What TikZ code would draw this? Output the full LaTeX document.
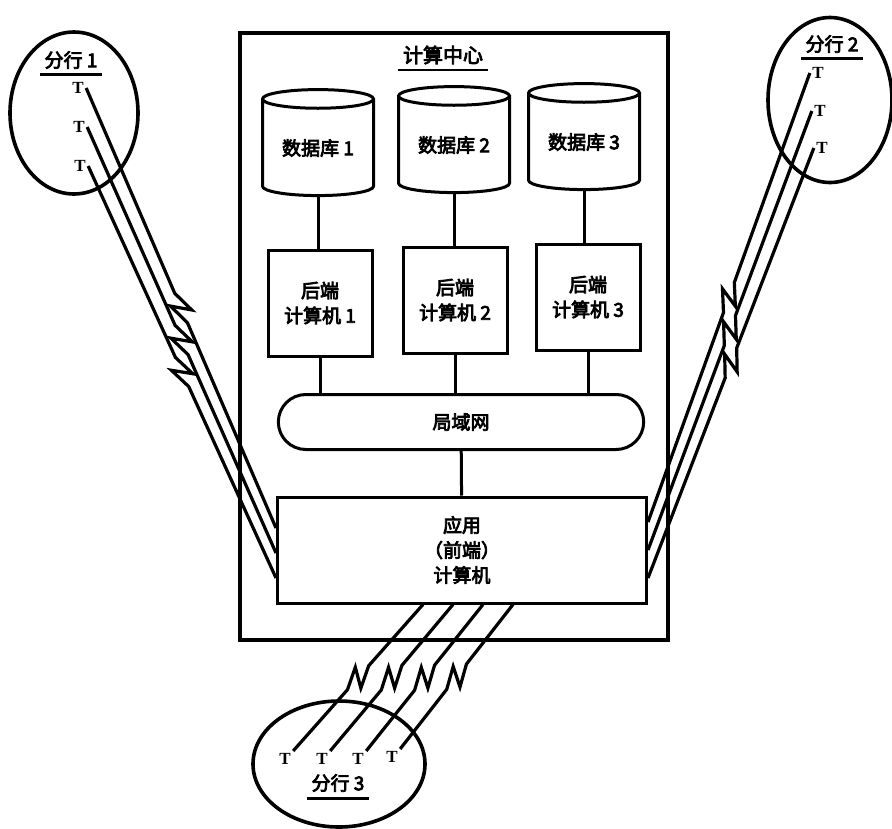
\documentclass[tikz,border=0pt]{standalone}
\usepackage{fontspec}
\newfontfamily\cjk{Noto Sans CJK SC}[FakeBold=4]
\newfontfamily\tfont{Liberation Serif}
\usetikzlibrary{positioning, shapes.geometric, shapes.misc, calc}
\tikzset{
  every picture/.style={line width=3pt},
  lbl/.style={font=\cjk\fontsize{19}{25}\selectfont, align=center},
  db/.style={lbl, cylinder, shape border rotate=90, aspect=0.26, draw, line width=3pt, minimum width=111pt, minimum height=106pt, inner sep=0pt},
  unit/.style={lbl, draw, line width=3pt, minimum width=104pt, minimum height=106pt},
  lan/.style={lbl, rounded rectangle, draw, line width=3pt, minimum width=372pt, minimum height=55pt},
  term/.style={font=\tfont\bfseries\fontsize{17}{17}\selectfont, inner sep=1pt},
  branch/.style={ellipse, draw, line width=3.6pt},
  uline/.style={line width=2.6pt},
  link/.style={line width=3.2pt, to path={
    -- ($(\tikztostart)!0.5!(\tikztotarget)!-16pt!(\tikztotarget)$)
    -- ($(\tikztostart)!0.5!(\tikztotarget)!6pt!(\tikztotarget)!9pt!90:(\tikztotarget)$)
    -- ($(\tikztostart)!0.5!(\tikztotarget)!-6pt!(\tikztotarget)!9pt!-90:(\tikztotarget)$)
    -- ($(\tikztostart)!0.5!(\tikztotarget)!16pt!(\tikztotarget)$)
    -- (\tikztotarget)}},
}

\begin{document}
\begin{tikzpicture}[x=1pt, y=-1pt, line width=3pt]
  \useasboundingbox (0,0) rectangle (892,828);
  % computing centre
  \draw[line width=3.4pt] (240,33) rectangle (668,640);
  \node[lbl, font=\cjk\fontsize{20}{22}\selectfont] (ctitle) at (443,55) {计算中心};
  \draw[uline] ([yshift=-1pt]ctitle.south west) -- ([yshift=-1pt]ctitle.south east);

  \node[db] (db1) at (318,148) {数据库 1};
  \node[db] (db2) at (454,145) {数据库 2};
  \node[db] (db3) at (584,142) {数据库 3};

  \node[unit] (be1) at (320,303) {后端\\计算机 1};
  \node[unit] (be2) at (455,300) {后端\\计算机 2};
  \node[unit] (be3) at (588,297) {后端\\计算机 3};

  \node[lan] (lan) at (461,422) {局域网};
  \node[unit, minimum width=369pt] (app) at (462,550) {应用\\（前端）\\计算机};

  \foreach \i in {1,2,3} {
    \draw (db\i.south) -- (db\i.south |- be\i.north);
    \draw (be\i.south) -- (be\i.south |- lan.north);
  }
  \draw (lan) -- (app);

  % branch 1
  \node[branch, minimum width=128pt, minimum height=162pt] (br1) at (74,113) {};
  \node[lbl] (br1t) at (71,60) {分行 1};
  \draw[uline] ([yshift=-1pt]br1t.south west) -- ([yshift=-1pt]br1t.south east);
  \node[term] (t11) at (78,88) {T};
  \node[term] (t12) at (79,127) {T};
  \node[term] (t13) at (80,166) {T};

  % branch 2
  \node[branch, minimum width=124pt, minimum height=165pt] (br2) at (830,100) {};
  \node[lbl] (br2t) at (832,44) {分行 2};
  \draw[uline] ([yshift=-1pt]br2t.south west) -- ([yshift=-1pt]br2t.south east);
  \node[term] (t21) at (818,73) {T};
  \node[term] (t22) at (820,111) {T};
  \node[term] (t23) at (822,148) {T};

  % branch 3
  \node[branch, minimum width=172pt, minimum height=126pt] (br3) at (339,764) {};
  \node[term] (t31) at (285,759) {T};
  \node[term] (t32) at (322,759) {T};
  \node[term] (t33) at (358,759) {T};
  \node[term] (t34) at (392,757) {T};
  \node[lbl] (br3t) at (338,783) {分行 3};
  \draw[uline] ([yshift=-2pt]br3t.south west) -- ([yshift=-2pt]br3t.south east);

  % line ends on the front-end computer
  \coordinate (e11) at (app.west |- 0,528);
  \coordinate (e12) at (app.west |- 0,553);
  \coordinate (e13) at (app.west |- 0,578);
  \coordinate (e21) at (app.east |- 0,522);
  \coordinate (e22) at (app.east |- 0,550);
  \coordinate (e23) at (app.east |- 0,578);
  \coordinate (e31) at (app.south -| 423,0);
  \coordinate (e32) at (app.south -| 453,0);
  \coordinate (e33) at (app.south -| 483,0);
  \coordinate (e34) at (app.south -| 513,0);

  \foreach \i in {1,2,3} {
    \draw[link] (t1\i.east) to (e1\i);
    \draw[link] (t2\i.west) to (e2\i);
  }
  \foreach \i in {1,2,3,4}
    \draw[link] (t3\i.north east) to (e3\i);
\end{tikzpicture}
\end{document}
